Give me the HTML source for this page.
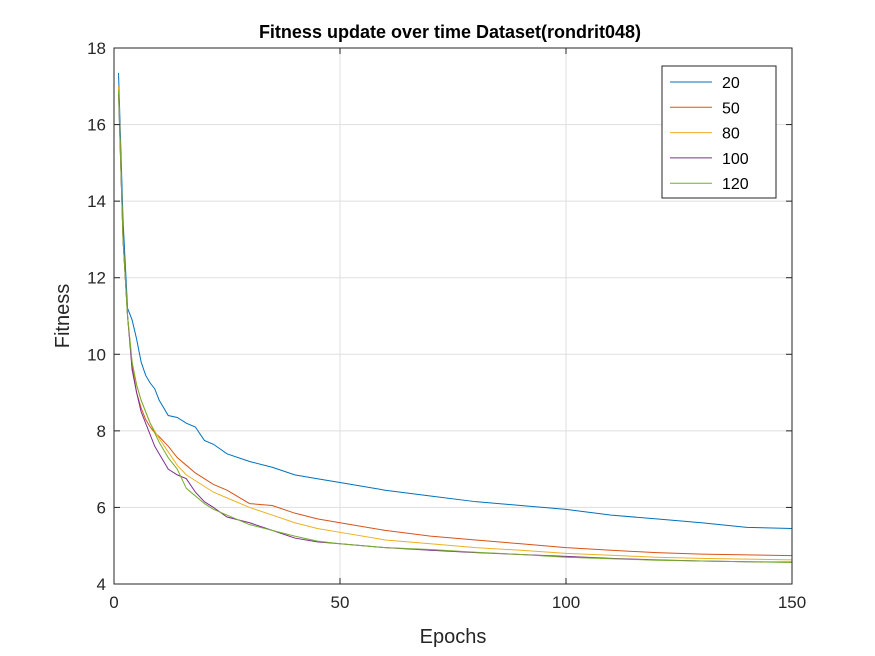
<!DOCTYPE html>
<html><head><meta charset="utf-8"><style>
body{margin:0;background:#fff;}
svg{display:block;font-family:"Liberation Sans",Arial,sans-serif;}
</style></head><body>
<svg id="chart" width="875" height="656">
<rect x="0" y="0" width="875" height="656" fill="#fff"/>
<rect x="114" y="48" width="678" height="536" fill="#fff"/>
<g id="grid"></g>
<g id="series"></g>
<g id="axes"></g>
<text x="450" y="38" text-anchor="middle" font-size="18" font-weight="bold">Fitness update over time Dataset(rondrit048)</text>
<text x="453" y="643" text-anchor="middle" font-size="20" fill="#262626">Epochs</text>
<text transform="translate(69,316) rotate(-90)" text-anchor="middle" font-size="20" fill="#262626">Fitness</text>
<g id="legend"></g>
</svg>
<script>
const epochs=[1,2,3,4,5,6,7,8,9,10,12,14,16,18,20,22,25,30,35,40,45,50,60,70,80,90,100,110,120,130,140,150];
const s20=[17.35,13.5,11.2,10.9,10.4,9.8,9.45,9.25,9.1,8.8,8.4,8.35,8.2,8.1,7.75,7.65,7.4,7.2,7.05,6.85,6.75,6.65,6.45,6.3,6.15,6.05,5.95,5.8,5.7,5.6,5.48,5.45];
const s50=[17,13,11,9.7,9.0,8.6,8.3,8.1,7.95,7.85,7.6,7.3,7.1,6.9,6.75,6.6,6.45,6.1,6.05,5.85,5.7,5.6,5.4,5.25,5.15,5.05,4.95,4.88,4.82,4.78,4.76,4.74];
const s80=[17,13,11,9.8,9.2,8.8,8.5,8.2,8.0,7.8,7.45,7.1,6.85,6.7,6.55,6.4,6.25,6.0,5.8,5.6,5.45,5.35,5.15,5.05,4.95,4.88,4.8,4.75,4.7,4.67,4.65,4.63];
const s100=[16.8,13,11,9.6,9.0,8.5,8.2,7.9,7.6,7.4,7.0,6.85,6.75,6.4,6.15,6.0,5.75,5.6,5.4,5.2,5.1,5.05,4.95,4.88,4.82,4.77,4.72,4.67,4.63,4.6,4.58,4.57];
const s120=[16.9,13,11,9.8,9.2,8.8,8.5,8.2,7.95,7.7,7.3,7.0,6.5,6.3,6.1,5.95,5.8,5.55,5.4,5.25,5.12,5.05,4.95,4.9,4.83,4.77,4.7,4.66,4.62,4.6,4.58,4.56];
const seriesNames=["20","50","80","100","120"];
const xTicks=[0,50,100,150];
const yTicks=[4,6,8,10,12,14,16,18];
const NS="http://www.w3.org/2000/svg";
const L=114,R=792,T=48,B=584;
const xs=v=>L+(v-0)/(150-0)*(R-L);
const ys=v=>B-(v-4)/(18-4)*(B-T);
const colors=["#0072BD","#D95319","#EDB120","#7E2F8E","#77AC30"];
const all=[s20,s50,s80,s100,s120];
function mk(t,a,p){const e=document.createElementNS(NS,t);for(const k in a)e.setAttribute(k,a[k]);p.appendChild(e);return e;}
const grid=document.getElementById('grid'),axes=document.getElementById('axes'),ser=document.getElementById('series'),leg=document.getElementById('legend');
xTicks.forEach(t=>{
 const g=mk('line',{x1:xs(t),x2:xs(t),y1:T,y2:B,stroke:'#dfdfdf','stroke-width':1},grid);
 
 
 mk('line',{x1:xs(t),x2:xs(t),y1:B,y2:B-6,stroke:'#262626'},axes);
 mk('line',{x1:xs(t),x2:xs(t),y1:T,y2:T+6,stroke:'#262626'},axes);
 const tx=mk('text',{x:xs(t),y:B+24,'text-anchor':'middle','font-size':17,fill:'#262626'},axes);
 tx.textContent=t;
 
 
});
yTicks.forEach(t=>{
 const g=mk('line',{x1:L,x2:R,y1:ys(t),y2:ys(t),stroke:'#dfdfdf','stroke-width':1},grid);
 
 
 mk('line',{x1:L,x2:L+6,y1:ys(t),y2:ys(t),stroke:'#262626'},axes);
 mk('line',{x1:R,x2:R-6,y1:ys(t),y2:ys(t),stroke:'#262626'},axes);
 const tx=mk('text',{x:L-8,y:ys(t)+6,'text-anchor':'end','font-size':17,fill:'#262626'},axes);
 tx.textContent=t;
 
 
});
const box=mk('rect',{x:L,y:T,width:R-L,height:B-T,fill:'none',stroke:'#262626','stroke-width':1},axes);


all.forEach((s,i)=>{
 const p=mk('polyline',{points:s.map((v,j)=>xs(epochs[j])+','+ys(v)).join(' '),fill:'none',stroke:colors[i],'stroke-width':1},ser);
 
 
});
const lb=mk('rect',{x:662,y:66,width:114,height:132,fill:'#fff',stroke:'#262626'},leg);


seriesNames.forEach((n,i)=>{
 const y=82+i*25.3;
 const ln=mk('line',{x1:670,x2:712,y1:y,y2:y,stroke:colors[i]},leg);
 
 
 const t=mk('text',{x:722,y:y+6,'font-size':16,fill:'#000'},leg);
 t.textContent=n;
 
 
});
</script>
</body></html>
